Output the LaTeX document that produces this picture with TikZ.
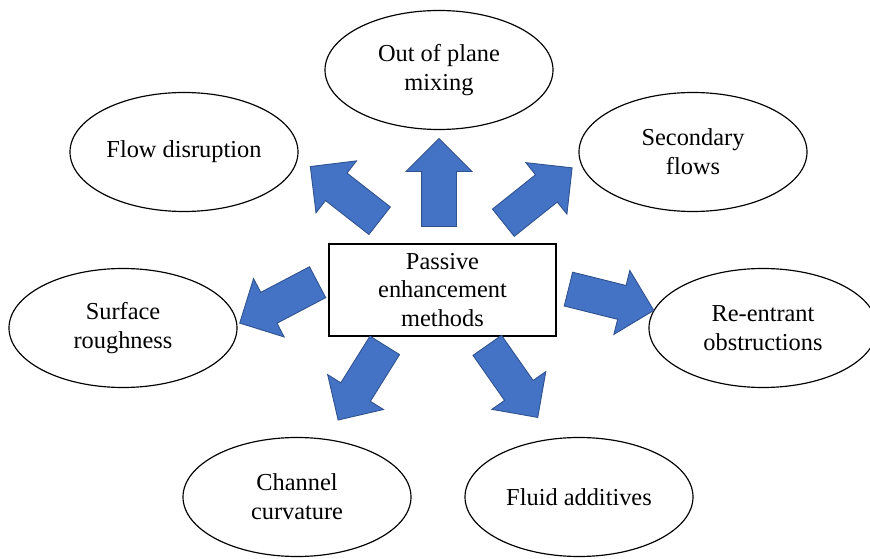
\documentclass[tikz,border=0pt]{standalone}
\usepackage{fontspec}
\setmainfont{Liberation Serif}
\usetikzlibrary{shapes.geometric,shapes.arrows}

\definecolor{arrowfill}{HTML}{4472C4}
\definecolor{arrowline}{HTML}{2F528F}

\tikzset{
	idea/.style={draw, ellipse, line width=1pt, minimum width=6.84cm, minimum height=3.57cm, inner sep=0pt, align=center, font=\fontsize{20.8}{25}\selectfont},
	method/.style={draw, rectangle, line width=1pt, minimum width=6.81cm, minimum height=2.76cm, inner sep=0pt, align=center, font=\fontsize{20.8}{24}\selectfont},
	blockarrow/.style={single arrow, draw=arrowline, fill=arrowfill, line width=0.75pt, minimum height=2.64cm, inner xsep=0pt, inner ysep=0.51cm, single arrow head extend=0.465cm, anchor=tail}
}

\begin{document}
\begin{tikzpicture}
		\useasboundingbox (0, 0) rectangle (26.1, 16.74);
		
		\node[method] (passive) at (13.275, 8.04) {Passive\\enhancement\\methods};
		
		\node[idea] (mixing) at (13.17, 14.64) {Out of plane\\mixing};
		\node[idea] (disruption) at (5.52, 12.18) {Flow disruption};
		\node[idea] (secondary) at (20.79, 12.18) {Secondary\\flows};
		\node[idea] (reentrant) at (22.89, 6.90) {Re-entrant\\obstructions};
		\node[idea] (roughness) at (3.69, 6.90) {Surface\\roughness};
		\node[idea] (curvature) at (8.91, 1.83) {Channel\\curvature};
		\node[idea] (additives) at (17.37, 1.83) {Fluid additives};
		
		\node[blockarrow, rotate=90] (toMixing) at (13.17, 9.93) {};
		\node[blockarrow, rotate=142] (toDisruption) at (11.40, 10.11) {};
		\node[blockarrow, rotate=38.6] (toSecondary) at (15.09, 10.05) {};
		\node[blockarrow, rotate=-14] (toReentrant) at (17.04, 8.07) {};
		\node[blockarrow, rotate=207.7] (toRoughness) at (9.54, 8.28) {};
		\node[blockarrow, rotate=238] (toCurvature) at (11.55, 6.39) {};
		\node[blockarrow, rotate=-55] (toAdditives) at (14.61, 6.39) {};
	\end{tikzpicture}
\end{document}
